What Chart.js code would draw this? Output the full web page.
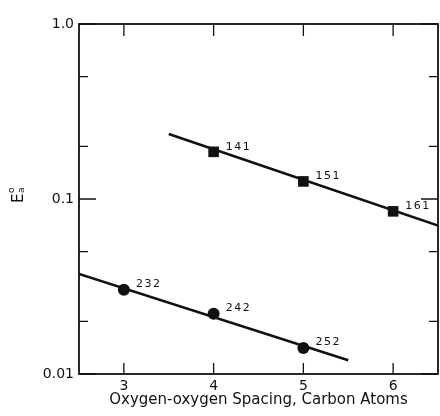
<!DOCTYPE html>
<html>
<head>
<meta charset="utf-8">
<script src="https://cdn.jsdelivr.net/npm/chart.js@4/dist/chart.umd.min.js"></script>
<style>
  html, body { margin: 0; padding: 0; background: #fff; }
  #wrap { width: 440px; height: 416px; }
</style>
</head>
<body>
<div id="wrap"><canvas id="chart" width="440" height="416"></canvas></div>
<script>
'use strict';

// ── DATA ──────────────────────────────────────────────────────────
const squareX      = [4, 5, 6];
const squareY      = [0.186, 0.126, 0.085];
const squareLabels = ['141', '151', '161'];

const circleX      = [3, 4, 5];
const circleY      = [0.0303, 0.0221, 0.0141];
const circleLabels = ['232', '242', '252'];

// straight-line fits through each family
const squareFitX = [3.5, 6.5];
const squareFitY = [0.235, 0.0705];
const circleFitX = [2.5, 5.5];
const circleFitY = [0.0373, 0.0120];

const xTicks       = [3, 4, 5, 6];
const yMajorTicks  = [0.01, 0.1, 1];
const yMajorLabels = ['0.01', '0.1', '1.0'];
const yMinorTicks  = [0.02, 0.05, 0.2, 0.5];

const INK  = '#111';
const FONT = "'DejaVu Sans', sans-serif";

const toPoints = (xs, ys) => xs.map((x, i) => ({ x, y: ys[i] }));

// ── PLUGINS ───────────────────────────────────────────────────────
// box around the plot area with inward-pointing tick marks on all sides
const frameTicks = {
  id: 'frameTicks',
  afterDraw(chart) {
    const { ctx, chartArea: a, scales } = chart;
    ctx.save();
    ctx.strokeStyle = INK;
    ctx.lineWidth = 1.8;
    ctx.strokeRect(a.left, a.top, a.right - a.left, a.bottom - a.top);

    ctx.lineWidth = 1.3;
    const yTicks = [...yMajorTicks.map(v => [v, 17]), ...yMinorTicks.map(v => [v, 9])];
    yTicks.forEach(([v, len]) => {
      const py = scales.y.getPixelForValue(v);
      ctx.beginPath();
      ctx.moveTo(a.left, py);  ctx.lineTo(a.left + len, py);
      ctx.moveTo(a.right, py); ctx.lineTo(a.right - len, py);
      ctx.stroke();
    });
    xTicks.forEach(v => {
      const px = scales.x.getPixelForValue(v);
      ctx.beginPath();
      ctx.moveTo(px, a.top);    ctx.lineTo(px, a.top + 12);
      ctx.moveTo(px, a.bottom); ctx.lineTo(px, a.bottom - 11);
      ctx.stroke();
    });
    ctx.restore();
  }
};

// sample numbers written beside each point
const pointTags = {
  id: 'pointTags',
  afterDatasetsDraw(chart) {
    const { ctx, scales } = chart;
    ctx.save();
    ctx.fillStyle = INK;
    ctx.font = `11px ${FONT}`;
    ctx.letterSpacing = '1.6px';
    ctx.textAlign = 'left';
    ctx.textBaseline = 'middle';
    const tag = (xs, ys, labels, dx, dy) => xs.forEach((x, i) => {
      const px = scales.x.getPixelForValue(x);
      const py = scales.y.getPixelForValue(ys[i]);
      ctx.fillText(labels[i], px + dx, py + dy);
    });
    tag(squareX, squareY, squareLabels, 12, -5);
    tag(circleX, circleY, circleLabels, 12, -6);
    ctx.restore();
  }
};

// rotated y title: E with stacked subscript a and superscript o
const yTitle = {
  id: 'yTitle',
  afterDraw(chart) {
    const { ctx } = chart;
    ctx.save();
    ctx.translate(23, 203);
    ctx.rotate(-Math.PI / 2);
    ctx.fillStyle = INK;
    ctx.textAlign = 'left';
    ctx.textBaseline = 'alphabetic';
    ctx.font = `15px ${FONT}`;
    ctx.fillText('E', 0, 0);
    const w = ctx.measureText('E').width;
    ctx.font = `9px ${FONT}`;
    ctx.fillText('a', w + 0.5, 1);
    ctx.fillText('o', w + 0.5, -9);
    ctx.restore();
  }
};

// ── CHART ─────────────────────────────────────────────────────────
const ctx = document.getElementById('chart').getContext('2d');

new Chart(ctx, {
  type: 'scatter',
  data: {
    datasets: [
      {
        data: toPoints(squareX, squareY),
        pointStyle: 'rect', pointRadius: 7.5, pointHoverRadius: 7.5,
        backgroundColor: INK, borderColor: INK, borderWidth: 0, order: 0
      },
      {
        data: toPoints(circleX, circleY),
        pointStyle: 'circle', pointRadius: 6, pointHoverRadius: 6,
        backgroundColor: INK, borderColor: INK, borderWidth: 0, order: 0
      },
      {
        data: toPoints(squareFitX, squareFitY),
        showLine: true, pointRadius: 0, borderColor: INK, borderWidth: 2.6, order: 1
      },
      {
        data: toPoints(circleFitX, circleFitY),
        showLine: true, pointRadius: 0, borderColor: INK, borderWidth: 2.6, order: 1
      }
    ]
  },
  options: {
    responsive: false,
    animation: false,
    layout: { autoPadding: false, padding: { top: 24, right: 2, left: 0, bottom: 0 } },
    plugins: {
      legend: { display: false },
      tooltip: { enabled: false }
    },
    scales: {
      x: {
        type: 'linear',
        min: 2.5, max: 6.5,
        afterBuildTicks: s => { s.ticks = xTicks.map(v => ({ value: v })); },
        afterFit: s => { s.height = 42; s.paddingLeft = 0; s.paddingRight = 0; },
        grid: { display: false, drawTicks: false },
        border: { display: false },
        ticks: { color: INK, padding: 4, font: { family: FONT, size: 14 } },
        title: {
          display: true,
          text: 'Oxygen-oxygen Spacing, Carbon Atoms',
          color: INK,
          font: { family: FONT, size: 15 },
          padding: { top: 0, bottom: 7 }
        }
      },
      y: {
        type: 'logarithmic',
        min: 0.01, max: 1,
        afterBuildTicks: s => {
          s.ticks = [...yMajorTicks, ...yMinorTicks].sort((a, b) => a - b).map(v => ({ value: v }));
        },
        afterFit: s => { s.width = 79; s.paddingTop = 0; s.paddingBottom = 0; },
        grid: { display: false, drawTicks: false },
        border: { display: false },
        ticks: {
          color: INK, padding: 5,
          font: { family: FONT, size: 14 },
          autoSkip: false,
          callback: v => {
            const i = yMajorTicks.indexOf(v);
            return i >= 0 ? yMajorLabels[i] : '';
          }
        }
      }
    }
  },
  plugins: [frameTicks, pointTags, yTitle]
});
</script>
</body>
</html>
